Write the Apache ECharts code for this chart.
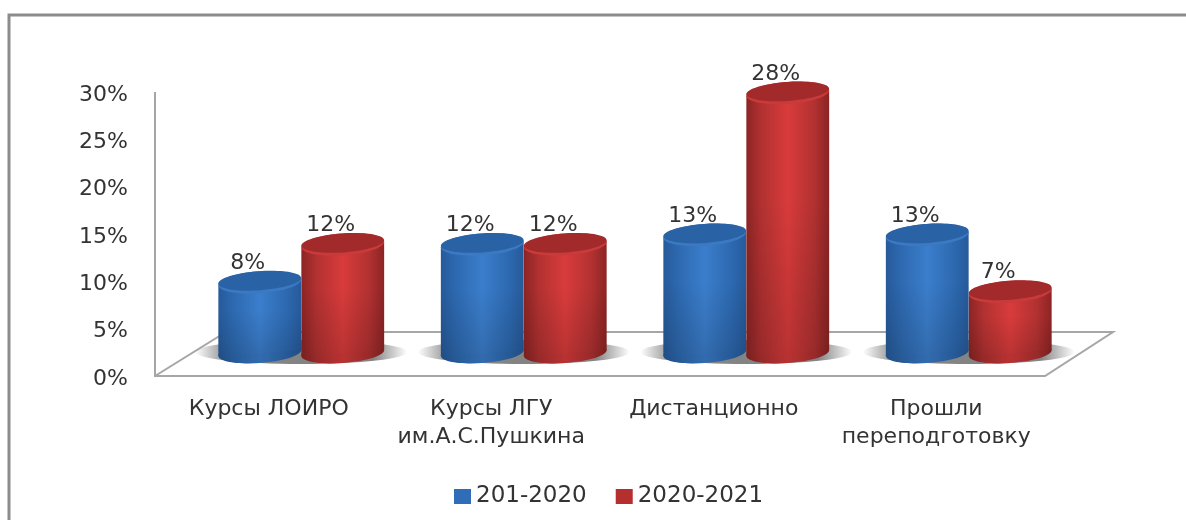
<!DOCTYPE html>
<html>
<head>
<meta charset="utf-8">
<title>Повышение квалификации</title>
<style>
html, body { margin: 0; padding: 0; background: #fff; }
#chart { width: 1186px; height: 520px; }
</style>
<script src="https://cdn.jsdelivr.net/npm/echarts@6/dist/echarts.min.js"></script>
</head>
<body>
<div id="chart"></div>
<script>
var categories = ["Курсы ЛОИРО", "Курсы ЛГУ\nим.А.С.Пушкина", "Дистанционно", "Прошли\nпереподготовку"];
var series1Name = "201-2020";
var series2Name = "2020-2021";
var series1Values = [8, 12, 13, 13];
var series2Values = [12, 12, 28, 7];
var plotMax = 30;

var FONT = '"DejaVu Sans", "Noto Sans", sans-serif';
var TEXT_COLOR = "#333";
var RX = 41.5, RY = 10, TILT = 0.07, BASE_LIFT = 5;
// tick labels sit a little below their marks in the original
var LABEL_DROP = 3;

var blue = { edge: "#265a9a", mid: "#2d69b0", light: "#3b7ecc", cap: "#2a62a6", rim: "#3b79c2" };
var red = { edge: "#8c2424", mid: "#b23131", light: "#d93b3b", cap: "#a32a2a", rim: "#c93a3a" };

function hGrad(stops) {
    return new echarts.graphic.LinearGradient(0, 0, 1, 0, stops);
}
function bodyGrad(c) {
    return hGrad([
        { offset: 0, color: c.edge },
        { offset: 0.18, color: c.mid },
        { offset: 0.5, color: c.light },
        { offset: 0.82, color: c.mid },
        { offset: 1, color: c.edge }
    ]);
}

// floor of the 3D box
function renderFloor(params, api) {
    var cs = params.coordSys;
    var x0 = cs.x, x1 = cs.x + cs.width;
    var yTop = cs.y - LABEL_DROP, y0 = cs.y + cs.height - LABEL_DROP;
    var lineStyle = { fill: null, stroke: "#a6a6a6", lineWidth: 2 };
    return {
        type: "group",
        children: [{
            type: "polyline",
            shape: { points: [[x0, yTop], [x0, y0], [x1, y0], [x1 + 68, y0 - 44], [x0 + 71, y0 - 44], [x0, y0]] },
            style: lineStyle
        }]
    };
}

// soft shadow under each pair of cylinders
function renderShadow(params, api) {
    var p = api.coord([api.value(0), 0]);
    return {
        type: "ellipse",
        shape: { cx: p[0], cy: p[1] - BASE_LIFT - 1, rx: 106, ry: 12 },
        style: {
            fill: hGrad([
                { offset: 0, color: "rgba(110,110,110,0)" },
                { offset: 0.16, color: "rgba(110,110,110,0.85)" },
                { offset: 0.84, color: "rgba(110,110,110,0.85)" },
                { offset: 1, color: "rgba(110,110,110,0)" }
            ])
        }
    };
}

function cylinder(colors, side) {
    return function (params, api) {
        var idx = api.value(0), val = api.value(1);
        var origin = api.coord([idx, 0]);
        var top = api.coord([idx, val]);
        var baseY = origin[1] - BASE_LIFT;
        var cx = origin[0] + side * RX;
        var dx = RX * Math.cos(TILT), dy = RX * Math.sin(TILT);
        var pts = [[cx - dx, top[1] + dy], [cx + dx, top[1] - dy], [cx + dx, baseY - dy], [cx - dx, baseY + dy]];
        return {
            type: "group",
            children: [{
                type: "ellipse",
                shape: { cx: cx, cy: baseY, rx: RX, ry: RY },
                originX: cx, originY: baseY, rotation: TILT,
                style: { fill: bodyGrad(colors) }
            }, {
                type: "ellipse",
                shape: { cx: cx, cy: baseY, rx: RX, ry: RY },
                originX: cx, originY: baseY, rotation: TILT,
                style: { fill: "rgba(0,0,0,0.14)" }
            }, {
                type: "polygon",
                shape: { points: pts },
                style: { fill: bodyGrad(colors) }
            }, {
                type: "polygon",
                shape: { points: pts },
                style: {
                    fill: new echarts.graphic.LinearGradient(0, 0, 0, 1, [
                        { offset: 0, color: "rgba(0,0,0,0)" },
                        { offset: 0.4, color: "rgba(0,0,0,0)" },
                        { offset: 1, color: "rgba(0,0,0,0.14)" }
                    ])
                }
            }, {
                type: "ellipse",
                shape: { cx: cx, cy: top[1], rx: RX, ry: RY + 1 },
                originX: cx, originY: top[1], rotation: TILT,
                style: { fill: colors.rim }
            }, {
                type: "ellipse",
                shape: { cx: cx, cy: top[1] - 1.5, rx: RX, ry: RY - 0.5 },
                originX: cx, originY: top[1] - 1.5, rotation: TILT,
                style: { fill: colors.cap }
            }, {
                type: "text",
                x: cx - 12,
                y: top[1] - 19,
                style: {
                    text: val + "%",
                    font: "22px " + FONT,
                    fill: TEXT_COLOR,
                    align: "center",
                    verticalAlign: "middle"
                }
            }]
        };
    };
}

function toData(values) {
    return values.map(function (v, i) { return [i, v]; });
}

var chart = echarts.init(document.getElementById("chart"), null, { renderer: "canvas" });
chart.setOption({
    animation: false,
    backgroundColor: "#fff",
    textStyle: { fontFamily: FONT },
    graphic: [{
        type: "polyline",
        shape: { points: [[9, 520], [9, 15], [1186, 15]] },
        style: { fill: null, stroke: "#8c8c8c", lineWidth: 3 }
    }],
    legend: {
        data: [series1Name, series2Name],
        left: 449,
        top: 480,
        itemWidth: 17,
        itemHeight: 15,
        itemGap: 29,
        icon: "rect",
        textStyle: { fontSize: 23, color: TEXT_COLOR, fontFamily: FONT }
    },
    grid: [
        { left: 155, top: 92 + LABEL_DROP, width: 890, height: 284 },
        { left: 190, top: 74, width: 890, height: 284 }
    ],
    xAxis: [{
        type: "category",
        gridIndex: 0,
        data: categories,
        axisLine: { show: false },
        axisTick: { show: false },
        axisLabel: { fontSize: 22, color: TEXT_COLOR, lineHeight: 28, margin: 16, padding: [0, 0, 0, 5], fontFamily: FONT, interval: 0 }
    }, {
        type: "category",
        gridIndex: 1,
        data: categories,
        show: false
    }],
    yAxis: [{
        type: "value",
        gridIndex: 0,
        min: 0,
        max: plotMax,
        interval: 5,
        axisLine: { show: false },
        axisTick: { show: false },
        splitLine: { show: false },
        axisLabel: { fontSize: 22, color: TEXT_COLOR, margin: 27, fontFamily: FONT, formatter: "{value}%" }
    }, {
        type: "value",
        gridIndex: 1,
        min: 0,
        max: plotMax,
        show: false
    }],
    series: [{
        type: "custom",
        silent: true,
        xAxisIndex: 0,
        yAxisIndex: 0,
        coordinateSystem: "cartesian2d",
        renderItem: renderFloor,
        data: [[0, 0]]
    }, {
        type: "custom",
        silent: true,
        xAxisIndex: 1,
        yAxisIndex: 1,
        renderItem: renderShadow,
        data: toData(series1Values)
    }, {
        name: series1Name,
        type: "custom",
        xAxisIndex: 1,
        yAxisIndex: 1,
        renderItem: cylinder(blue, -1),
        itemStyle: { color: "#2f6db8" },
        encode: { x: 0, y: 1 },
        data: toData(series1Values)
    }, {
        name: series2Name,
        type: "custom",
        xAxisIndex: 1,
        yAxisIndex: 1,
        renderItem: cylinder(red, 1),
        itemStyle: { color: "#b52f2f" },
        encode: { x: 0, y: 1 },
        data: toData(series2Values)
    }]
});
</script>
</body>
</html>
